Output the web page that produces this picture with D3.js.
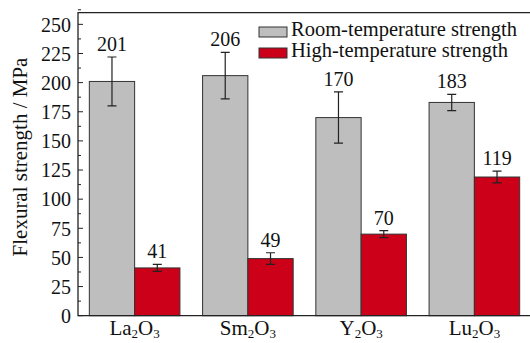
<!DOCTYPE html>
<html>
<head>
<meta charset="utf-8">
<script src="https://cdn.jsdelivr.net/npm/d3@7"></script>
<style>
  body { margin: 0; background: #fff; }
  text { font-family: "Liberation Serif", "Times New Roman", serif; fill: #111; }
</style>
</head>
<body>
<div id="chart"></div>
<script>
// data
const categories = [["La", "2", "O", "3"], ["Sm", "2", "O", "3"], ["Y", "2", "O", "3"], ["Lu", "2", "O", "3"]];
const categoryKeys = ["La2O3", "Sm2O3", "Y2O3", "Lu2O3"];
const roomStrength = [201, 206, 170, 183];
const roomError = [21, 20, 22, 7];
const highStrength = [41, 49, 70, 119];
const highError = [3, 5, 3, 5];
const seriesNames = ["Room-temperature strength", "High-temperature strength"];
const yTicks = [0, 25, 50, 75, 100, 125, 150, 175, 200, 225, 250];

const WIDTH = 530;
const HEIGHT = 343;
const MARGINS = {left: 78, right: -1, top: 12.7, bottom: 27.3};
const COLORS = ["#bebebe", "#cc0018"];

const svg = d3.select("#chart")
  .append("svg")
    .attr("width", WIDTH)
    .attr("height", HEIGHT);

// scales
const x = d3.scaleBand()
  .domain(categoryKeys)
  .range([MARGINS.left, WIDTH - MARGINS.right])
  .paddingInner(0.2)
  .paddingOuter(0.1);

const xSub = d3.scaleBand()
  .domain([0, 1])
  .range([0, x.bandwidth()]);

const y = d3.scaleLinear()
  .domain([0, 260])
  .range([HEIGHT - MARGINS.bottom, MARGINS.top]);

// bars
const series = [
  {vals: roomStrength, errs: roomError},
  {vals: highStrength, errs: highError}
];

series.forEach((s, si) => {
  const g = svg.append("g");
  g.selectAll("rect")
    .data(categoryKeys)
    .enter()
    .append("rect")
      .attr("x", (d) => x(d) + xSub(si))
      .attr("y", (d, i) => y(s.vals[i]))
      .attr("width", xSub.bandwidth())
      .attr("height", (d, i) => y(0) - y(s.vals[i]))
      .attr("fill", COLORS[si])
      .attr("stroke", "#333")
      .attr("stroke-width", 1);

  // error bars
  const cx = (d) => x(d) + xSub(si) + xSub.bandwidth() / 2;
  g.selectAll(".err")
    .data(categoryKeys)
    .enter()
    .append("path")
      .attr("fill", "none")
      .attr("stroke", "#222")
      .attr("stroke-width", 1.2)
      .attr("d", (d, i) => {
        const c = cx(d), t = y(s.vals[i] + s.errs[i]), b = y(s.vals[i] - s.errs[i]);
        return "M" + (c - 4.5) + "," + t + "H" + (c + 4.5) +
               "M" + c + "," + t + "V" + b +
               "M" + (c - 4.5) + "," + b + "H" + (c + 4.5);
      });

  // value labels
  g.selectAll(".lbl")
    .data(categoryKeys)
    .enter()
    .append("text")
      .attr("x", cx)
      .attr("y", (d, i) => y(s.vals[i] + s.errs[i]) - 6)
      .attr("text-anchor", "middle")
      .attr("font-size", 20)
      .text((d, i) => s.vals[i]);
});

// y axis with inward ticks and minor ticks
const yAxis = svg.append("g")
  .attr("transform", "translate(" + MARGINS.left + ",0)");

yAxis.call(d3.axisLeft(y).tickValues(yTicks).tickSize(0).tickPadding(7))
  .call((g) => g.select(".domain").remove());
yAxis.attr("font-family", null).attr("font-size", null);
yAxis.selectAll("text")
  .attr("font-size", 20)
  .attr("dy", "0.34em")
  .attr("fill", "#111");

yAxis.selectAll(".major")
  .data(yTicks)
  .enter()
  .append("line")
    .attr("x1", 0).attr("x2", 5)
    .attr("y1", (d) => y(d)).attr("y2", (d) => y(d))
    .attr("stroke", "#222");

yAxis.selectAll(".minor")
  .data(yTicks.map((d) => d + 12.5))
  .enter()
  .append("line")
    .attr("x1", 0).attr("x2", 3)
    .attr("y1", (d) => y(d)).attr("y2", (d) => y(d))
    .attr("stroke", "#222");

// frame
svg.append("path")
  .attr("fill", "none")
  .attr("stroke", "#222")
  .attr("stroke-width", 1.3)
  .attr("d", "M" + WIDTH + "," + y(260) + "H" + MARGINS.left + "V" + y(0) + "H" + WIDTH);

// x labels with subscripts
const xl = svg.append("g");
categoryKeys.forEach((k, i) => {
  const t = xl.append("text")
    .attr("x", x(k) + x.bandwidth() / 2)
    .attr("y", 335)
    .attr("text-anchor", "middle")
    .attr("font-size", 21);
  categories[i].forEach((part, j) => {
    const sub = j % 2 === 1;
    t.append("tspan")
      .attr("font-size", sub ? 13 : 21)
      .attr("dy", sub ? 3 : (j === 0 ? 0 : -3))
      .text(part);
  });
});

// y axis title
svg.append("text")
  .attr("transform", "translate(27,157) rotate(-90)")
  .attr("text-anchor", "middle")
  .attr("font-size", 21)
  .text("Flexural strength / MPa");

// legend
const legend = svg.append("g");
seriesNames.forEach((name, i) => {
  legend.append("rect")
    .attr("x", 259)
    .attr("y", 27 + i * 21)
    .attr("width", 28)
    .attr("height", 10)
    .attr("fill", COLORS[i])
    .attr("stroke", "#333")
    .attr("stroke-width", 1);
  legend.append("text")
    .attr("x", 291)
    .attr("y", 36 + i * 21)
    .attr("font-size", 20.5)
    .text(name);
});
</script>
</body>
</html>
